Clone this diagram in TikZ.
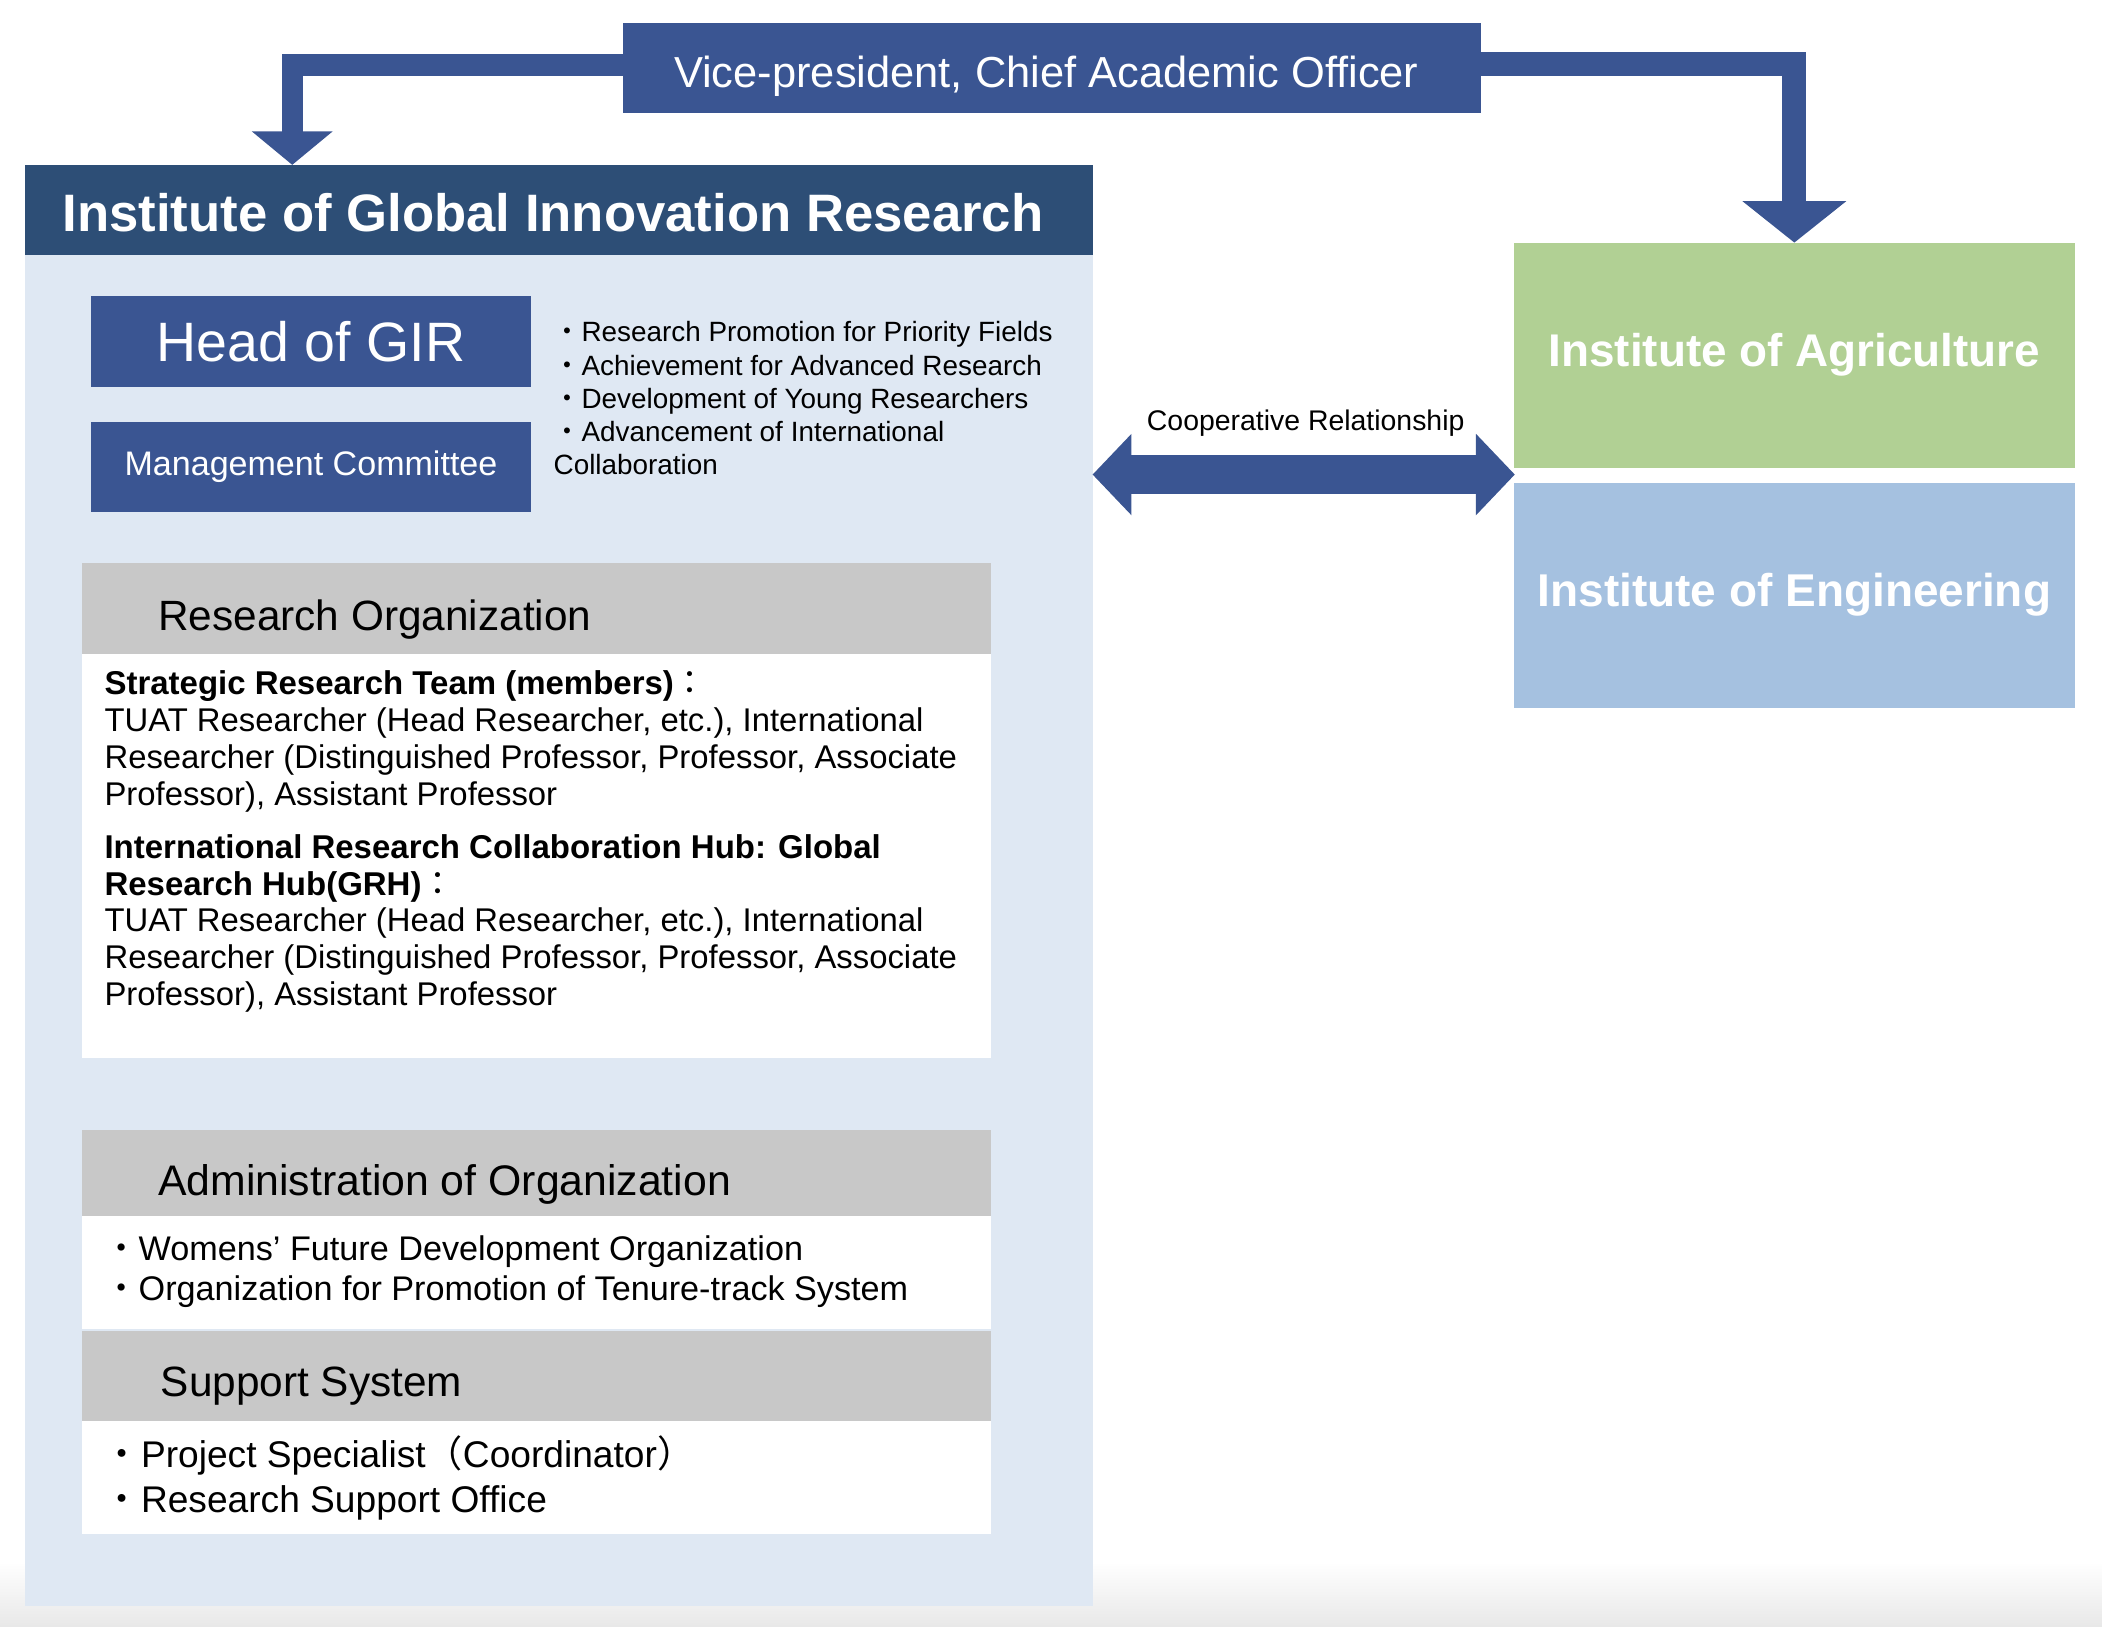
\documentclass[tikz,border=0pt]{standalone}
\usepackage{fontspec}
\setmainfont{Liberation Sans}
\newfontfamily\cjk{Noto Sans CJK JP}
\usetikzlibrary{arrows.meta}

\definecolor{vpblue}{HTML}{3A5592}
\definecolor{titleblue}{HTML}{2D4E76}
\definecolor{paleblue}{HTML}{DFE8F3}
\definecolor{headgray}{HTML}{C8C8C8}
\definecolor{agrigreen}{HTML}{B1D094}
\definecolor{engblue}{HTML}{A5C1E0}

\newcommand{\fsz}[1]{\fontsize{#1}{#1}\selectfont}
\newcommand{\bul}{{\cjk ・}}

\tikzset{
	block/.style={anchor=north west, inner sep=0pt, outer sep=0pt},
	line/.style={anchor=base west, inner sep=0pt, outer sep=0pt},
	fatarrow/.style={vpblue, line width=#1}
}

\begin{document}
\begin{tikzpicture}[x=0.5pt, y=-0.5pt]

			\useasboundingbox (0,0) rectangle (1568,1213);
			\shade[top color=white, bottom color=black!9] (0,1165) rectangle (1568,1213);

			\node[block, fill=vpblue, minimum width=320pt, minimum height=33.5pt] (vp) at (465,17) {};
			\node[anchor=base, inner sep=0pt, text=white, font=\fsz{16.2}] (vptext) at (780.5,65) {Vice-president, Chief Academic Officer};

			\node[block, fill=titleblue, minimum width=398pt, minimum height=33.5pt] (girhead) at (19,123) {};
			\node[block, fill=paleblue, minimum width=398pt, minimum height=504pt] (gir) at (19,190) {};
			\node[anchor=base, inner sep=0pt, text=white, font=\bfseries\fsz{19.65}] (girtitle) at (412.5,172.5) {Institute of Global Innovation Research};

			\node[block, fill=vpblue, text=white, minimum width=164pt, minimum height=34pt, font=\fsz{20.7}] (head) at (68,221) {Head of GIR};
			\node[block, fill=vpblue, text=white, minimum width=164pt, minimum height=33.5pt, font=\fsz{12.7}] (mc) at (68,315) {Management Committee};

			\node[line, font=\fsz{10.4}] (aim1) at (413,255) {\bul Research Promotion for Priority Fields};
			\node[line, font=\fsz{10.4}] (aim2) at (413,280) {\bul Achievement for Advanced Research};
			\node[line, font=\fsz{10.4}] (aim3) at (413,304.5) {\bul Development of Young Researchers};
			\node[line, font=\fsz{10.4}] (aim4) at (413,329) {\bul Advancement of International};
			\node[line, font=\fsz{10.4}] (aim5) at (413,354) {Collaboration};

			\node[block, fill=headgray, minimum width=339pt, minimum height=34pt] (rohead) at (61,420) {};
			\node[block, fill=white, minimum width=339pt, minimum height=150.5pt] (robody) at (61,488) {};
			\node[line, font=\fsz{15.8}] (rotitle) at (118,470.5) {Research Organization};

			\node[line, font=\bfseries\fsz{12.3}] (ro1) at (78,518.4) {Strategic Research Team (members){\mdseries\cjk ：}};
			\node[line, font=\fsz{12.25}] (ro2) at (78,546) {TUAT Researcher (Head Researcher, etc.), International};
			\node[line, font=\fsz{12.25}] (ro3) at (78,573.5) {Researcher (Distinguished Professor, Professor, Associate};
			\node[line, font=\fsz{12.25}] (ro4) at (78,601) {Professor), Assistant Professor};
			\node[line, font=\bfseries\fsz{12.3}] (ro5) at (78,640.3) {International Research Collaboration Hub: Global};
			\node[line, font=\bfseries\fsz{12.3}] (ro6) at (78,667.7) {Research Hub(GRH){\mdseries\cjk ：}};
			\node[line, font=\fsz{12.25}] (ro7) at (78,695) {TUAT Researcher (Head Researcher, etc.), International};
			\node[line, font=\fsz{12.25}] (ro8) at (78,722.4) {Researcher (Distinguished Professor, Professor, Associate};
			\node[line, font=\fsz{12.25}] (ro9) at (78,749.8) {Professor), Assistant Professor};

			\node[block, fill=headgray, minimum width=339pt, minimum height=32pt] (adhead) at (61,843) {};
			\node[block, fill=white, minimum width=339pt, minimum height=42pt] (adbody) at (61,907) {};
			\node[line, font=\fsz{15.95}] (adtitle) at (118,892) {Administration of Organization};
			\node[line, font=\fsz{12.75}] (ad1) at (78,940.2) {\bul Womens’ Future Development Organization};
			\node[line, font=\fsz{12.75}] (ad2) at (78,970.2) {\bul Organization for Promotion of Tenure-track System};

			\node[block, fill=headgray, minimum width=339pt, minimum height=33.5pt] (suphead) at (61,993) {};
			\node[block, fill=white, minimum width=339pt, minimum height=42pt] (supbody) at (61,1060) {};
			\node[line, font=\fsz{15.8}] (suptitle) at (120,1042) {Support System};
			\node[line, font=\fsz{13.85}] (sup1) at (77.5,1094.6) {\bul Project Specialist{\cjk （}Coordinator{\cjk ）}};
			\node[line, font=\fsz{13.85}] (sup2) at (77.5,1128) {\bul Research Support Office};

			\node[block, fill=agrigreen, text=white, minimum width=209.5pt, minimum height=84pt, font=\bfseries\fsz{17.1}] (agri) at (1129,181) {Institute of Agriculture};
			\node[block, fill=engblue, text=white, minimum width=209.5pt, minimum height=84pt, font=\bfseries\fsz{17.15}] (eng) at (1129,360) {Institute of Engineering};

			\coordinate (girtip) at (218,123);
			\coordinate (gap) at (1130,354);

			\draw[fatarrow=8pt, -{Triangle[width=29.5pt,length=12.5pt]}] ([yshift=1pt]vp.west) -| (girtip);
			\draw[fatarrow=9pt, -{Triangle[width=38pt,length=15.5pt]}] ([yshift=1.5pt]vp.east) -| (agri.north);
			\draw[fatarrow=14.75pt, {Triangle[width=29.5pt,length=14.5pt]}-{Triangle[width=29.5pt,length=14.5pt]}] (gap -| gir.east) -- (gap);
			\node[anchor=base, inner sep=0pt, font=\fsz{10.6}] (coop) at (974,321) {Cooperative Relationship};

	\end{tikzpicture}
\end{document}
